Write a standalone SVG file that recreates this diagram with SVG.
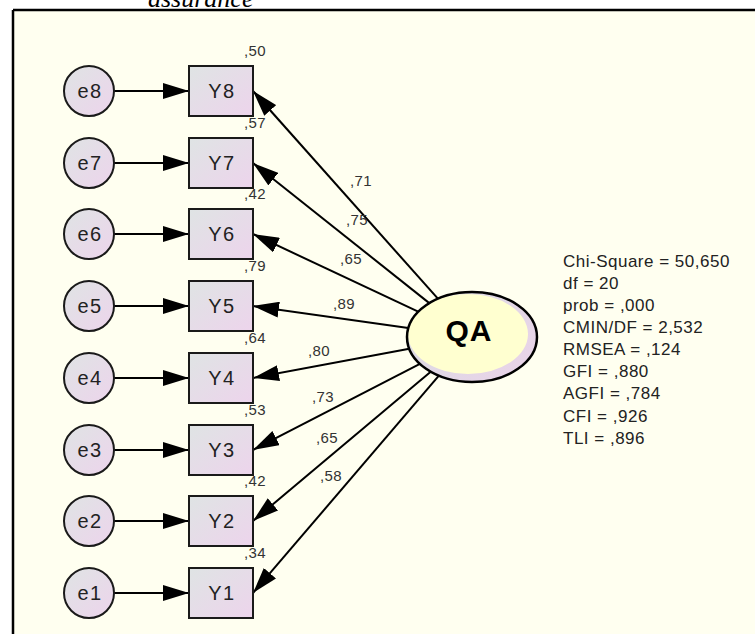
<svg xmlns="http://www.w3.org/2000/svg" width="755" height="634" viewBox="0 0 755 634">
<defs>
<linearGradient id="g" x1="0" y1="0" x2="1" y2="1">
<stop offset="0" stop-color="#dfe4e4"/>
<stop offset="1" stop-color="#edd4ec"/>
</linearGradient>
<linearGradient id="gq" x1="0" y1="0" x2="1" y2="0.6">
<stop offset="0" stop-color="#d9dde2"/>
<stop offset="1" stop-color="#e8d4e8"/>
</linearGradient>
<marker id="ah" markerUnits="userSpaceOnUse" markerWidth="26" markerHeight="16" refX="26" refY="8" orient="auto">
<path d="M0,0 L26,8 L0,16 z" fill="#000"/>
</marker>
</defs>
<style>
.n{fill:url(#g);stroke:#1a1a1a;stroke-width:2}
.lbl{font-family:"Liberation Sans",Arial,sans-serif;font-size:20px;letter-spacing:1.5px;fill:#222;text-anchor:middle}
.num{font-family:"Liberation Sans",Arial,sans-serif;font-size:15px;letter-spacing:0.4px;fill:#333}
.c line{stroke:#000;stroke-width:2;marker-end:url(#ah)}
.st{font-family:"Liberation Sans",Arial,sans-serif;font-size:17px;letter-spacing:0.5px;fill:#222}
</style>
<rect x="0" y="0" width="755" height="634" fill="#ffffff"/>
<rect x="13" y="10" width="742" height="624" fill="#fffff0"/>
<path d="M13,10 H755 M13,10 V634" fill="none" stroke="#000" stroke-width="2.5"/>
<text x="148" y="7" font-family="'Liberation Serif',serif" font-style="italic" font-size="26" fill="#000">assurance</text>

<g class="c" id="connectors">
<line x1="114" y1="91" x2="189" y2="91"/>
<line x1="114" y1="163" x2="189" y2="163"/>
<line x1="114" y1="234" x2="189" y2="234"/>
<line x1="114" y1="306" x2="189" y2="306"/>
<line x1="114" y1="378" x2="189" y2="378"/>
<line x1="114" y1="450" x2="189" y2="450"/>
<line x1="114" y1="521" x2="189" y2="521"/>
<line x1="114" y1="593" x2="189" y2="593"/>
<line x1="437.9" y1="298.7" x2="253" y2="91"/>
<line x1="429.3" y1="303.1" x2="253" y2="163"/>
<line x1="418.2" y1="311.7" x2="253" y2="234"/>
<line x1="408.3" y1="328" x2="253" y2="306"/>
<line x1="409.3" y1="348.7" x2="253" y2="378"/>
<line x1="419.9" y1="363.9" x2="253" y2="450"/>
<line x1="430.7" y1="371.7" x2="253" y2="521"/>
<line x1="438.9" y1="375.7" x2="253" y2="593"/>
</g>

<g id="loadings" class="num">
<text x="350" y="186">,71</text>
<text x="346" y="225">,75</text>
<text x="340" y="264">,65</text>
<text x="333" y="309">,89</text>
<text x="308" y="356">,80</text>
<text x="312" y="402">,73</text>
<text x="316" y="443">,65</text>
<text x="320" y="481">,58</text>
</g>

<g id="e8"><circle class="n" cx="89" cy="91" r="25"/><text class="lbl" x="90" y="98">e8</text></g>
<g id="e7"><circle class="n" cx="89" cy="163" r="25"/><text class="lbl" x="90" y="170">e7</text></g>
<g id="e6"><circle class="n" cx="89" cy="234" r="25"/><text class="lbl" x="90" y="241">e6</text></g>
<g id="e5"><circle class="n" cx="89" cy="306" r="25"/><text class="lbl" x="90" y="313">e5</text></g>
<g id="e4"><circle class="n" cx="89" cy="378" r="25"/><text class="lbl" x="90" y="385">e4</text></g>
<g id="e3"><circle class="n" cx="89" cy="450" r="25"/><text class="lbl" x="90" y="457">e3</text></g>
<g id="e2"><circle class="n" cx="89" cy="521" r="25"/><text class="lbl" x="90" y="528">e2</text></g>
<g id="e1"><circle class="n" cx="89" cy="593" r="25"/><text class="lbl" x="90" y="600">e1</text></g>

<g id="Y8"><rect class="n" x="189" y="66" width="64" height="50"/><text class="lbl" x="222" y="98">Y8</text><text class="num" x="244" y="56">,50</text></g>
<g id="Y7"><rect class="n" x="189" y="138" width="64" height="50"/><text class="lbl" x="222" y="170">Y7</text><text class="num" x="244" y="128">,57</text></g>
<g id="Y6"><rect class="n" x="189" y="209" width="64" height="50"/><text class="lbl" x="222" y="241">Y6</text><text class="num" x="244" y="199">,42</text></g>
<g id="Y5"><rect class="n" x="189" y="281" width="64" height="50"/><text class="lbl" x="222" y="313">Y5</text><text class="num" x="244" y="271">,79</text></g>
<g id="Y4"><rect class="n" x="189" y="353" width="64" height="50"/><text class="lbl" x="222" y="385">Y4</text><text class="num" x="244" y="343">,64</text></g>
<g id="Y3"><rect class="n" x="189" y="425" width="64" height="50"/><text class="lbl" x="222" y="457">Y3</text><text class="num" x="244" y="415">,53</text></g>
<g id="Y2"><rect class="n" x="189" y="496" width="64" height="50"/><text class="lbl" x="222" y="528">Y2</text><text class="num" x="244" y="486">,42</text></g>
<g id="Y1"><rect class="n" x="189" y="568" width="64" height="50"/><text class="lbl" x="222" y="600">Y1</text><text class="num" x="244" y="558">,34</text></g>

<g id="QA">
<ellipse cx="472" cy="337" rx="65" ry="45" fill="url(#gq)"/>
<ellipse cx="468" cy="334" rx="60" ry="40" fill="#ffffd0"/>
<ellipse cx="472" cy="337" rx="65" ry="45" fill="none" stroke="#000" stroke-width="2.5"/>
<text x="469" y="341" font-family="'Liberation Sans',Arial,sans-serif" font-size="30" font-weight="bold" letter-spacing="1" text-anchor="middle" fill="#000">QA</text>
</g>

<g id="fit" class="st">
<text x="563" y="267">Chi-Square = 50,650</text>
<text x="563" y="289">df = 20</text>
<text x="563" y="311">prob = ,000</text>
<text x="563" y="333">CMIN/DF = 2,532</text>
<text x="563" y="355">RMSEA = ,124</text>
<text x="563" y="377">GFI = ,880</text>
<text x="563" y="399">AGFI = ,784</text>
<text x="563" y="422">CFI = ,926</text>
<text x="563" y="444">TLI = ,896</text>
</g>
</svg>
